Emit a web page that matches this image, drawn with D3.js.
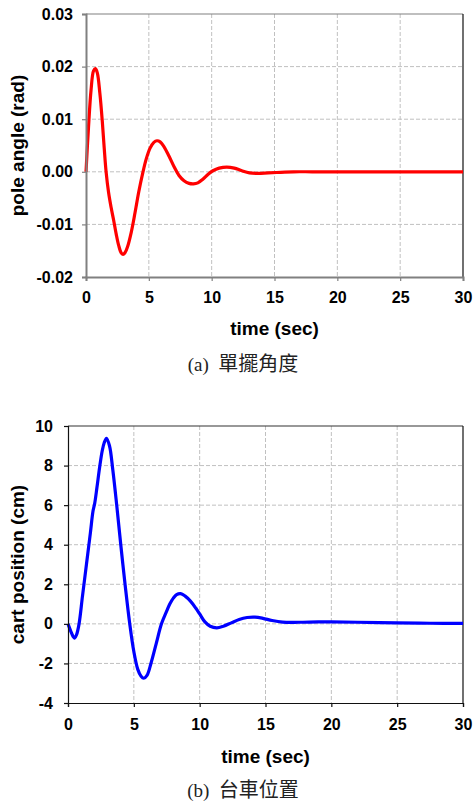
<!DOCTYPE html>
<html>
<head>
<meta charset="utf-8">
<style>
    body { margin: 0; background: #fff; }
    svg { display: block; }
    .tick text, .title { font-family: "Liberation Sans", Arial, sans-serif; font-weight: bold; fill: #000; }
    .caption { font-family: "Liberation Serif", "Noto Sans CJK TC", serif; fill: #222; }
    .grid line { stroke: #c0c0c0; stroke-width: 1; stroke-dasharray: 4,2; }
</style>
</head>
<body>
<svg width="473" height="805"></svg>
<script src="https://cdn.jsdelivr.net/npm/d3@7"></script>
<script>
    // time axis, shared by both panels
    var timeTicks = [0, 5, 10, 15, 20, 25, 30];

    // (a) pole angle, rad
    var poleTime  = [0, 0.2, 0.4, 0.6, 0.75, 0.9, 1.1, 1.3, 1.45, 1.6, 1.8, 2.0, 2.2, 2.4, 2.6, 2.8, 2.95, 3.1, 3.3, 3.6, 3.9, 4.2, 4.5, 4.8, 5.1, 5.4, 5.65, 5.9, 6.2, 6.6, 7.0, 7.4, 7.8, 8.2, 8.55, 8.9, 9.3, 9.7, 10.1, 10.6, 11.2, 11.8, 12.4, 13.0, 13.7, 14.5, 15.5, 16.5, 18, 20, 25, 30];
    var poleAngle = [0, 0.0085, 0.0155, 0.0192, 0.0196, 0.0188, 0.0150, 0.0095, 0.0045, 0.0000, -0.0040, -0.0068, -0.0092, -0.0118, -0.0140, -0.0154, -0.0157, -0.0154, -0.0143, -0.0115, -0.0078, -0.0038, -0.0004, 0.0025, 0.0045, 0.0056, 0.0059, 0.0057, 0.0048, 0.0030, 0.0010, -0.0007, -0.0017, -0.0022, -0.0023, -0.0021, -0.0014, -0.0005, 0.0002, 0.0007, 0.0009, 0.0007, 0.0002, -0.0002, -0.0003, -0.0002, -0.0001, 0.0000, 0.0000, 0.0000, 0.0000, 0.0000];
    var poleTicks = [-0.02, -0.01, 0.00, 0.01, 0.02, 0.03];

    // (b) cart position, cm
    var cartTime = [0, 0.2, 0.4, 0.51, 0.65, 0.84, 1.1, 1.4, 1.7, 1.9, 2.03, 2.2, 2.4, 2.6, 2.75, 2.92, 3.15, 3.4, 3.7, 4.0, 4.35, 4.69, 5.0, 5.3, 5.55, 5.75, 6.0, 6.3, 6.7, 7.1, 7.5, 7.73, 8.0, 8.25, 8.55, 8.9, 9.3, 9.7, 10.0, 10.4, 10.8, 11.3, 11.8, 12.4, 13.0, 13.6, 14.2, 14.8, 15.5, 16.3, 17.5, 19, 20, 22, 25, 27.5, 30];
    var cartPos  = [0, -0.35, -0.65, -0.72, -0.55, 0.0, 1.4, 3.0, 4.6, 5.7, 6.1, 6.9, 7.9, 8.75, 9.15, 9.38, 9.0, 7.8, 6.0, 4.05, 1.9, 0.0, -1.4, -2.3, -2.65, -2.75, -2.6, -2.0, -1.0, 0.0, 0.65, 1.0, 1.3, 1.48, 1.53, 1.4, 1.15, 0.8, 0.5, 0.1, -0.12, -0.2, -0.12, 0.05, 0.22, 0.32, 0.34, 0.28, 0.17, 0.09, 0.08, 0.1, 0.1, 0.08, 0.05, 0.03, 0.02];
    var cartTicks = [-4, -2, 0, 2, 4, 6, 8, 10];

    var svg = d3.select("svg");
    // plain hyphen for negatives, like the original
    var loc = d3.formatLocale({ decimal: ".", thousands: ",", grouping: [3], currency: ["", ""], minus: "-" });

    function drawPanel(p) {
        var x = d3.scaleLinear().domain([0, 30]).range([p.left, p.right]);
        var y = d3.scaleLinear().domain([p.yTicks[0], p.yTicks[p.yTicks.length - 1]]).range([p.bottom, p.top]);
        var g = svg.append("g");

        // dashed grid
        var grid = g.append("g").attr("class", "grid");
        grid.selectAll(".gx").data(timeTicks.slice(1, -1)).join("line")
            .attr("x1", d => x(d)).attr("x2", d => x(d))
            .attr("y1", p.top).attr("y2", p.bottom);
        grid.selectAll(".gy").data(p.yTicks.slice(1, -1)).join("line")
            .attr("x1", p.left).attr("x2", p.right)
            .attr("y1", d => y(d)).attr("y2", d => y(d));

        // top and right frame
        g.append("line").attr("x1", p.left).attr("x2", p.right).attr("y1", p.top).attr("y2", p.top)
            .attr("stroke", p.frameColor).attr("stroke-width", 1.2);
        g.append("line").attr("x1", p.right).attr("x2", p.right).attr("y1", p.top).attr("y2", p.bottom)
            .attr("stroke", "#111").attr("stroke-width", 1.2);

        // the curve
        var line = d3.line()
            .x(d => x(d[0])).y(d => y(d[1]))
            .curve(d3.curveCatmullRom.alpha(0.5));
        g.append("path")
            .datum(d3.zip(p.t, p.v))
            .attr("fill", "none")
            .attr("stroke", p.color)
            .attr("stroke-width", 3.2)
            .attr("stroke-linejoin", "round")
            .attr("d", line);

        // axes
        var xAxis = g.append("g").attr("transform", "translate(0," + p.bottom + ")")
            .call(d3.axisBottom(x).tickValues(timeTicks).tickSize(4).tickPadding(p.xPad).tickFormat(loc.format("d")));
        var yAxis = g.append("g").attr("transform", "translate(" + p.left + ",0)")
            .call(d3.axisLeft(y).tickValues(p.yTicks).tickSize(4).tickPadding(p.yPad).tickFormat(p.fmt));
        [xAxis, yAxis].forEach(function (a) {
            a.select(".domain").attr("stroke", p.axisColor).attr("stroke-width", p.axisWidth);
            a.selectAll(".tick line").attr("stroke", p.axisColor).attr("stroke-width", 1.2);
            a.selectAll(".tick text").style("font-size", "16px");
        });

        // titles
        g.append("text").attr("class", "title")
            .attr("x", (p.left + p.right) / 2).attr("y", p.xTitleY)
            .attr("text-anchor", "middle").style("font-size", "19px")
            .text("time (sec)");
        g.append("text").attr("class", "title")
            .attr("transform", "translate(" + 24 + "," + ((p.top + p.bottom) / 2) + ") rotate(-90)")
            .attr("text-anchor", "middle").style("font-size", "19px")
            .text(p.yTitle);

        // caption below
        var cap = g.append("text").attr("class", "caption")
            .attr("x", 243).attr("y", p.captionY)
            .attr("text-anchor", "middle").style("font-size", "19px");
        cap.append("tspan").text(p.captionTag + "\u00a0\u00a0");
        cap.append("tspan").style("font-family", "'Noto Sans CJK TC', serif").style("font-size", "20px").text(p.captionText);
    }

    drawPanel({
        t: poleTime, v: poleAngle, yTicks: poleTicks, fmt: loc.format(".2f"),
        left: 86, right: 463, top: 14, bottom: 277,
        color: "#ff0000", axisColor: "#808080", axisWidth: 2, frameColor: "#808080",
        xPad: 11, yPad: 9, xTitleY: 335,
        yTitle: "pole angle (rad)", captionTag: "(a)", captionText: "單擺角度", captionY: 371
    });

    drawPanel({
        t: cartTime, v: cartPos, yTicks: cartTicks, fmt: loc.format("d"),
        left: 68, right: 463, top: 426, bottom: 703,
        color: "#0000ff", axisColor: "#111", axisWidth: 1.2, frameColor: "#333",
        xPad: 12, yPad: 11, xTitleY: 763,
        yTitle: "cart position (cm)", captionTag: "(b)", captionText: "台車位置", captionY: 797
    });
</script>
</body>
</html>
